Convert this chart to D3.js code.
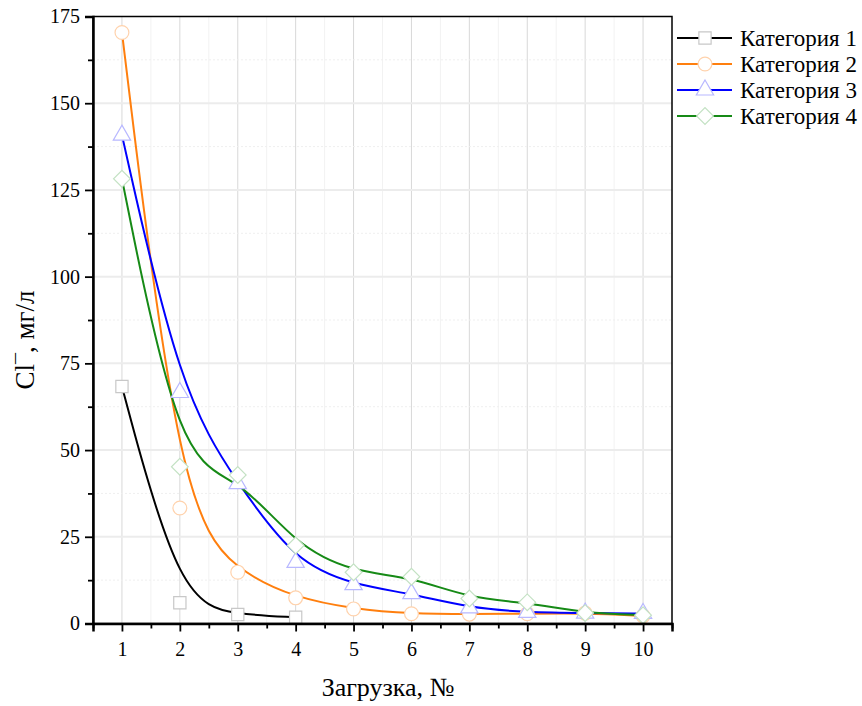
<!DOCTYPE html>
<html>
<head>
<meta charset="utf-8">
<script src="https://cdn.jsdelivr.net/npm/d3@7"></script>
<style>
  body { margin: 0; background: #fff; }
</style>
</head>
<body>
<div id="chart"></div>
<script>
const loads = [1, 2, 3, 4, 5, 6, 7, 8, 9, 10];
const yTicks = [0, 25, 50, 75, 100, 125, 150, 175];
const cat1 = [68.3, 6, 2.6, 1.8];
const cat2 = [170.4, 33.3, 14.8, 7.4, 4.2, 2.8, 2.7, 2.8, 3.0, 2.2];
const cat3 = [140.8, 66.6, 40.3, 17.6, 11.2, 8.6, 4.5, 3.2, 3.0, 2.9];
const cat4 = [128.2, 45.2, 42.8, 22.5, 14.8, 13.5, 7.2, 6.1, 3.0, 2.4];
const names = ['Категория 1', 'Категория 2', 'Категория 3', 'Категория 4'];

const FONT = '"Liberation Serif", "Times New Roman", serif';

// rot: diamond is drawn as a square turned by 45 degrees
const series = [
  { name: names[0], values: cat1, color: '#000000', mark: '#c8c8c8', symbol: d3.symbolSquare, size: 150, rot: 0 },
  { name: names[1], values: cat2, color: '#ff7f0e', mark: '#ffd2ac', symbol: d3.symbolCircle, size: 150, rot: 0 },
  { name: names[2], values: cat3, color: '#0000ff', mark: '#b8b8ff', symbol: d3.symbolTriangle, size: 130, rot: 0 },
  { name: names[3], values: cat4, color: '#168a16', mark: '#c4e2c4', symbol: d3.symbolSquare, size: 140, rot: 45 }
];

const W = 862, H = 706;
const margin = { top: 16.5, right: 190, bottom: 82.5, left: 93 };

const svg = d3.select('#chart').append('svg')
  .attr('width', W).attr('height', H);

const x = d3.scaleLinear().domain([0.5, 10.5]).range([margin.left, W - margin.right]);
const y = d3.scaleLinear().domain([0, 175]).range([H - margin.bottom, margin.top]);

// grid
const grid = svg.append('g');
d3.range(1, 10.6, 0.5).forEach(v => {
  const major = Number.isInteger(v);
  grid.append('line')
    .attr('x1', x(v)).attr('x2', x(v))
    .attr('y1', y(0)).attr('y2', y(175))
    .attr('stroke', major ? '#d8d8d8' : '#f2f2f2')
    .attr('stroke-width', 1);
});
d3.range(12.5, 175, 12.5).forEach(v => {
  const major = v % 25 === 0;
  grid.append('line')
    .attr('x1', x(0.5)).attr('x2', x(10.5))
    .attr('y1', y(v)).attr('y2', y(v))
    .attr('stroke', major ? '#ececec' : '#efefef')
    .attr('stroke-width', major ? 2 : 1)
    .attr('stroke-dasharray', major ? null : '2,2');
});

// curves (B-spline look)
const line = d3.line()
  .curve(d3.curveBasis)
  .x((d, i) => x(loads[i]))
  .y(d => y(d));

series.forEach(s => {
  svg.append('path')
    .datum(s.values)
    .attr('fill', 'none')
    .attr('stroke', s.color)
    .attr('stroke-width', 2)
    .attr('d', line);
});

// markers
series.forEach(s => {
  svg.append('g').selectAll('path')
    .data(s.values)
    .join('path')
    .attr('transform', (d, i) => `translate(${x(loads[i])},${y(d)}) rotate(${s.rot})`)
    .attr('d', d3.symbol().type(s.symbol).size(s.size))
    .attr('fill', '#fff')
    .attr('stroke', s.mark)
    .attr('stroke-width', 1.2);
});

// frame
svg.append('rect')
  .attr('x', x(0.5)).attr('y', y(175))
  .attr('width', x(10.5) - x(0.5)).attr('height', y(0) - y(175))
  .attr('fill', 'none').attr('stroke', '#000').attr('stroke-width', 1.5);

// axes
svg.append('g')
  .attr('transform', `translate(0,${y(0)})`)
  .call(d3.axisBottom(x).tickValues(loads).tickSize(8).tickPadding(10).tickFormat(d3.format('d')));
svg.append('g')
  .attr('transform', `translate(0,${y(0)})`)
  .call(d3.axisBottom(x).tickValues(d3.range(0.5, 10.6, 1)).tickSize(5).tickFormat(''))
  .select('.domain').remove();

svg.append('g')
  .attr('transform', `translate(${x(0.5)},0)`)
  .call(d3.axisLeft(y).tickValues(yTicks).tickSize(8).tickPadding(5));
svg.append('g')
  .attr('transform', `translate(${x(0.5)},0)`)
  .call(d3.axisLeft(y).tickValues(d3.range(12.5, 175, 25)).tickSize(5).tickFormat(''))
  .select('.domain').remove();

svg.selectAll('.domain').attr('stroke-width', 2.5);
svg.selectAll('.tick line').attr('stroke-width', 1.8);
svg.selectAll('.tick text').attr('font-size', 20);

// axis titles
svg.append('text')
  .attr('x', 388).attr('y', 696)
  .attr('text-anchor', 'middle')
  .attr('font-size', 26)
  .text('Загрузка, №');

const yl = svg.append('text')
  .attr('transform', 'translate(34,340) rotate(-90)')
  .attr('text-anchor', 'middle')
  .attr('font-size', 27);
yl.append('tspan').text('Cl');
yl.append('tspan').attr('dy', -3).attr('font-size', 22).text('¯');
yl.append('tspan').attr('dy', 3).text(', мг/л');

// legend
const legend = svg.append('g').attr('transform', 'translate(677,38)');
series.forEach((s, i) => {
  const g = legend.append('g').attr('transform', `translate(0,${i * 26})`);
  g.append('line').attr('x1', 0).attr('x2', 55).attr('y1', 0).attr('y2', 0)
    .attr('stroke', s.color).attr('stroke-width', 2);
  g.append('path')
    .attr('transform', `translate(28,0) rotate(${s.rot})`)
    .attr('d', d3.symbol().type(s.symbol).size(s.size))
    .attr('fill', '#fff').attr('stroke', s.mark).attr('stroke-width', 1.2);
  g.append('text').attr('x', 63).attr('y', 7.5)
    .attr('font-size', 23).text(s.name);
});

svg.selectAll('text').style('font-family', FONT).style('fill', '#000');
</script>
</body>
</html>
